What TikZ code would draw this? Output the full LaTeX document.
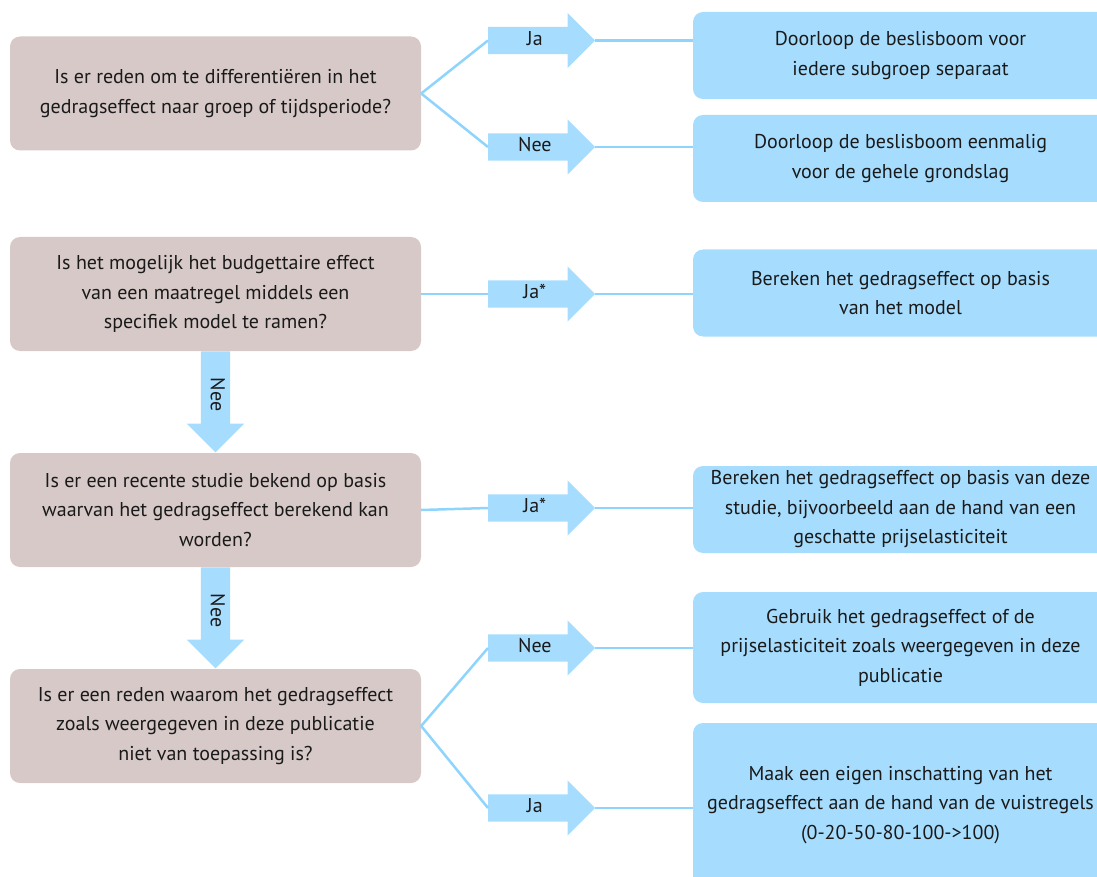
\documentclass[tikz,border=0pt]{standalone}
\usepackage{fontspec}
\setmainfont{PT Sans}
\usetikzlibrary{shapes.arrows}

\definecolor{qbrown}{HTML}{D6C9C7}
\definecolor{abluefill}{HTML}{A6DDFE}
\definecolor{linkblue}{HTML}{8FD4FD}
\definecolor{txtdark}{HTML}{1A1A1A}

\begin{document}
\begin{tikzpicture}[
		x=1pt, y=-1pt, % pixel-like coordinates, y downwards
		font=\fontsize{20}{29.5}\selectfont,
		text=txtdark,
		question/.style={fill=qbrown, rounded corners=10pt, minimum width=411pt, minimum height=114pt, align=center, inner sep=0pt},
		answer/.style={fill=abluefill, rounded corners=10pt, minimum width=415pt, minimum height=87pt, align=center, inner sep=0pt},
		blockarrow/.style={single arrow, fill=abluefill, single arrow head extend=14pt, minimum height=107pt, text height=13pt, text depth=3.5pt, inner ysep=5.25pt, inner xsep=4pt, anchor=tail},
		downarrow/.style={blockarrow, minimum height=101pt, rotate=-90, inner ysep=6.25pt},
		link/.style={draw=linkblue, line width=2.5pt}
		]
		
		\useasboundingbox (0,0) rectangle (1097,877);
		
		% --- 1. Questions (left column) ---
		\node[question] (q1) at (215.5, 93.5) {Is er reden om te differentiëren in het\\ gedragseffect naar groep of tijdsperiode?};
		\node[question] (q2) at (215.5, 294) {Is het mogelijk het budgettaire effect\\ van een maatregel middels een\\ specifiek model te ramen?};
		\node[question] (q3) at (215.5, 510) {Is er een recente studie bekend op basis\\ waarvan het gedragseffect berekend kan\\ worden?};
		\node[question] (q4) at (215.5, 726) {Is er een reden waarom het gedragseffect\\ zoals weergegeven in deze publicatie\\ niet van toepassing is?};
		
		% --- 2. Outcomes (right column) ---
		\node[answer] (r1) at (900.5, 55.5) {Doorloop de beslisboom voor\\ iedere subgroep separaat};
		\node[answer] (r2) at (900.5, 158.5) {Doorloop de beslisboom eenmalig\\ voor de gehele grondslag};
		\node[answer] (r3) at (900.5, 293) {Bereken het gedragseffect op basis\\ van het model};
		\node[answer] (r4) at (900.5, 509.5) {Bereken het gedragseffect op basis van deze\\ studie, bijvoorbeeld aan de hand van een\\ geschatte prijselasticiteit};
		\node[answer, minimum height=111pt] (r5) at (900.5, 647.5) {Gebruik het gedragseffect of de\\ prijselasticiteit zoals weergegeven in deze\\ publicatie};
		\node[answer, minimum height=164pt] (r6) at (900.5, 805) {Maak een eigen inschatting van het\\ gedragseffect aan de hand van de vuistregels\\ (0-20-50-80-100->100)};
		
		% --- 3. Block arrows with the answers ---
		\node[blockarrow] (a1ja) at (488, 40.5) {Ja};
		\node[blockarrow] (a1nee) at (488, 147) {Nee};
		\node[blockarrow] (a2ja) at (488, 294) {Ja*};
		\node[blockarrow] (a3ja) at (488, 508) {Ja*};
		\node[blockarrow] (a4nee) at (488, 648) {Nee};
		\node[blockarrow] (a4ja) at (488, 808) {Ja};
		
		% going down to the next question
		\node[downarrow] (d2nee) at (q2.south) {Nee};
		\node[downarrow] (d3nee) at (q3.south) {Nee};
		
		% --- 4. Connectors ---
		\draw[link] (q1.east) -- (a1ja.tail);
		\draw[link] (q1.east) -- (a1nee.tail);
		\draw[link] (q2.east) -- (a2ja.tail);
		\draw[link] (q3.east) -- (a3ja.tail);
		\draw[link] (q4.east) -- (a4nee.tail);
		\draw[link] (q4.east) -- (a4ja.tail);
		
		\draw[link] (a1ja.tip) -- (a1ja.tip -| r1.west);
		\draw[link] (a1nee.tip) -- (a1nee.tip -| r2.west);
		\draw[link] (a2ja.tip) -- (a2ja.tip -| r3.west);
		\draw[link] (a3ja.tip) -- (a3ja.tip -| r4.west);
		\draw[link] (a4nee.tip) -- (a4nee.tip -| r5.west);
		\draw[link] (a4ja.tip) -- (a4ja.tip -| r6.west);
		
	\end{tikzpicture}
\end{document}
